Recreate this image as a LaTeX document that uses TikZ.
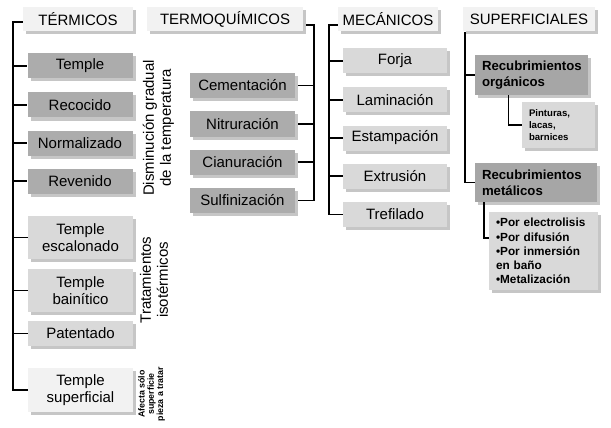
\documentclass[tikz,border=0pt]{standalone}
\usepackage{fontspec}
\setmainfont{Liberation Sans}
\usetikzlibrary{shadows}

\begin{document}
\begin{tikzpicture}[
  x=1pt,y=-1pt,
  head/.style={fill=gray!10, align=center, font=\fontsize{15}{17.5}\selectfont, minimum height=24pt, inner sep=0pt, drop shadow={shadow xshift=3pt, shadow yshift=-3pt, fill=gray!45, opacity=1}},
  darkbox/.style={head, fill=gray!65, minimum width=105pt, minimum height=25pt},
  lightbox/.style={head, fill=gray!30, minimum width=105pt, minimum height=25pt},
  recbox/.style={head, fill=gray!70, align=left, font=\fontsize{13.2}{16}\selectfont\bfseries, inner xsep=7pt, inner ysep=0pt},
  subbox/.style={head, fill=gray!30, align=left, inner xsep=7pt, inner ysep=0pt},
  sidenote/.style={align=center, font=\fontsize{15}{17}\selectfont, inner sep=0pt, rotate=90},
  tinynote/.style={align=center, font=\fontsize{8.8}{9.2}\selectfont\bfseries, inner sep=0pt, rotate=90},
  tree/.style={line width=1.8pt}
]
\useasboundingbox (0,0) rectangle (611,428);

% Termicos
\node[head, minimum width=110pt] (termicos) at (78,19) {TÉRMICOS};
\node[darkbox] (temple) at (80,66) {Temple};
\node[darkbox] (recocido) at (80,105) {Recocido};
\node[darkbox] (normalizado) at (80,143) {Normalizado};
\node[darkbox] (revenido) at (80,181) {Revenido};
\node[lightbox, minimum height=43pt] (escalonado) at (80.5,237.5) {Temple\\escalonado};
\node[lightbox, minimum height=43pt] (bainitico) at (80.5,290.5) {Temple\\bainítico};
\node[lightbox] (patentado) at (80.5,333.5) {Patentado};
\node[head, minimum width=105pt, minimum height=44pt] (superficial) at (80.5,390) {Temple\\superficial};
\node[sidenote] (disminucion) at (158.5,128) {Disminución gradual\\de la temperatura};
\node[sidenote] (isotermicos) at (154,280) {Tratamientos\\isotérmicos};
\node[tinynote] (afecta) at (151.5,394) {Afecta sólo\\superficie\\pieza a tratar};

\coordinate (t1) at (13,22);
\draw[tree] (termicos.west |- t1) -- (t1) |- (superficial.west);
\foreach \n in {temple,recocido,normalizado,revenido,escalonado,bainitico,patentado}
  \draw[tree] (t1 |- \n.west) -- (\n.west);

% Termoquimicos
\node[head, minimum width=156pt] (termoquimicos) at (225,19) {TERMOQUÍMICOS};
\node[darkbox] (cementacion) at (242.5,85.5) {Cementación};
\node[darkbox] (nitruracion) at (242.5,124) {Nitruración};
\node[darkbox] (cianuracion) at (242.5,162) {Cianuración};
\node[darkbox] (sulfinizacion) at (242.5,200.5) {Sulfinización};

\coordinate (t2) at (314,25);
\draw[tree] ([xshift=3pt]termoquimicos.east |- t2) -- (t2) |- ([xshift=3pt]sulfinizacion.east);
\foreach \n in {cementacion,nitruracion,cianuracion}
  \draw[tree] (t2 |- \n.east) -- ([xshift=3pt]\n.east);

% Mecanicos
\node[head, minimum width=100pt] (mecanicos) at (388,19) {MECÁNICOS};
\node[lightbox, minimum width=104pt] (forja) at (395,61) {Forja};
\node[lightbox, minimum width=104pt] (laminacion) at (395,100) {Laminación};
\node[lightbox, minimum width=104pt] (estampacion) at (395,138) {Estampación};
\node[lightbox, minimum width=104pt] (extrusion) at (395,176) {Extrusión};
\node[lightbox, minimum width=104pt] (trefilado) at (395,214.5) {Trefilado};

\coordinate (t3) at (329,25);
\draw[tree] (mecanicos.west |- t3) -- (t3) |- (trefilado.west);
\foreach \n in {forja,laminacion,estampacion,extrusion}
  \draw[tree] (t3 |- \n.west) -- (\n.west);

% Superficiales
\node[head, minimum width=132pt] (superficiales) at (529,19.5) {SUPERFICIALES};
\node[recbox, text width=99pt, minimum height=40pt] (organicos) at (531.5,75) {Recubrimientos\\orgánicos};
\node[subbox, text width=59pt, minimum height=46pt, font=\fontsize{9.6}{12.2}\selectfont\bfseries] (pinturas) at (558.5,125) {Pinturas,\\lacas,\\barnices};
\node[recbox, text width=108pt, minimum height=39pt] (metalicos) at (536,182.5) {Recubrimientos\\metálicos};
\node[subbox, text width=95pt, minimum height=78pt, font=\fontsize{11.8}{14.2}\selectfont\bfseries] (procesos) at (543.5,251) {\textbullet Por electrolisis\\\textbullet Por difusión\\\textbullet Por inmersión\\en baño\\\textbullet Metalización};

\coordinate (t4) at (465,32);
\draw[tree] (t4) |- (metalicos.west);
\draw[tree] (t4 |- organicos.west) -- (organicos.west);
\draw[tree] ([xshift=-23pt]organicos.south) |- (pinturas.west);
\draw[tree] ([xshift=-52pt]metalicos.south) |- (procesos.west |- 0,238);
\end{tikzpicture}
\end{document}
